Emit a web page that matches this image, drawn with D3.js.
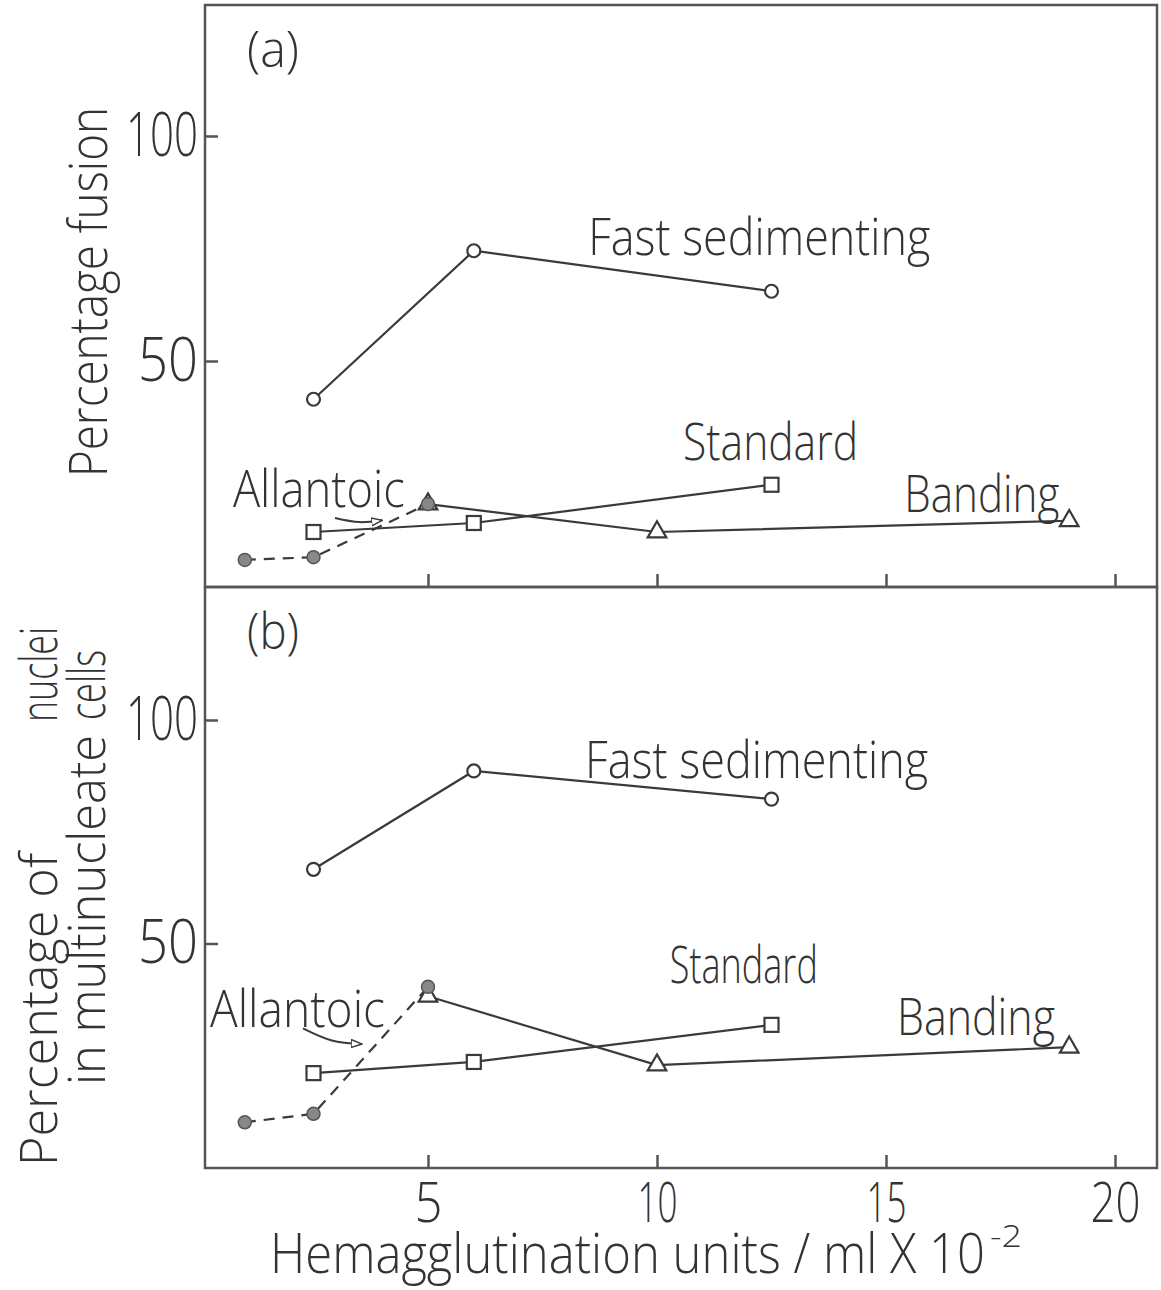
<!DOCTYPE html>
<html>
<head>
<meta charset="utf-8">
<script src="https://cdn.jsdelivr.net/npm/d3@7"></script>
<style>
  body { margin: 0; background: #fff; }
  text { font-family: 'Open Sans', Lato, sans-serif; font-weight: 300; fill: #333; }
</style>
</head>
<body>
<div id="chart"></div>
<script>
// x values, hemagglutination units/ml x 10^-2
const xFast = [2.5, 6, 12.5];
const xStandard = [2.5, 6, 12.5];
const xBanding = [5, 10, 19];
const xAllantoic = [1, 2.5, 5];

// panel (a): percentage fusion
const fastA = [41.5, 74.5, 65.5];
const standardA = [12, 14, 22.5];
const bandingA = [18.2, 12, 14.5];
const allantoicA = [5.8, 6.4, 18.2];

// panel (b): percentage of nuclei in multinucleate cells
const fastB = [66.6, 88.6, 82.3];
const standardB = [21, 23.5, 31.8];
const bandingB = [38.2, 22.8, 26.8];
const allantoicB = [10, 11.9, 40.3];

const xTickValues = [5, 10, 15, 20];
const yTickValues = [50, 100];

var width = 1161;
var height = 1290;
var frameLeft = 205, frameRight = 1157;
var ink = "#3a3a3a";

var svg = d3.select("#chart")
    .append("svg")
    .attr("width", width)
    .attr("height", height);

// arrow head for the "Allantoic" pointer
svg.append("defs").append("marker")
    .attr("id", "arrow")
    .attr("viewBox", "0 0 12 10")
    .attr("refX", 11)
    .attr("refY", 5)
    .attr("markerWidth", 12)
    .attr("markerHeight", 10)
    .attr("markerUnits", "userSpaceOnUse")
    .attr("orient", "auto")
    .append("path")
    .attr("d", "M0,1 L11,5 L0,9 Z")
    .attr("fill", "#fff")
    .attr("stroke", ink)
    .attr("stroke-width", 1.5);

const x = d3.scaleLinear().domain([0, 20]).range([199, 1115]);

const panels = [
    {
        name: "(a)",
        y: d3.scaleLinear().domain([0, 100]).range([586, 136]),
        top: 5, bottom: 587,
        fast: fastA, standard: standardA, banding: bandingA, allantoic: allantoicA,
        showX: false,
        labels: [
            { text: "Fast sedimenting", x: 8.5, y: 73.6, len: 342 },
            { text: "Standard", x: 10.57, y: 28, len: 175 },
            { text: "Banding", x: 15.4, y: 16.4, len: 155 },
            { text: "Allantoic", x: 0.74, y: 17.5, len: 172 }
        ],
        arrow: [[2.97, 15.1], [3.5, 14.2], [4.0, 14.6]]
    },
    {
        name: "(b)",
        y: d3.scaleLinear().domain([0, 100]).range([1167, 720]),
        top: 587, bottom: 1168,
        fast: fastB, standard: standardB, banding: bandingB, allantoic: allantoicB,
        showX: true,
        labels: [
            { text: "Fast sedimenting", x: 8.43, y: 87, len: 343 },
            { text: "Standard", x: 10.28, y: 41.2, len: 148 },
            { text: "Banding", x: 15.24, y: 29.5, len: 158 },
            { text: "Allantoic", x: 0.24, y: 31.3, len: 175 }
        ],
        arrow: [[2.27, 31], [2.9, 28.3], [3.56, 27.5]]
    }
];

panels.forEach(p => {
    const y = p.y;
    const g = svg.append("g");

    // frame
    g.append("rect")
        .attr("x", frameLeft)
        .attr("y", p.top)
        .attr("width", frameRight - frameLeft)
        .attr("height", p.bottom - p.top)
        .attr("fill", "none")
        .attr("stroke", "#555")
        .attr("stroke-width", 2.5);

    // y axis, ticks point into the plot
    const yAxis = g.append("g")
        .attr("transform", `translate(${frameLeft},0)`)
        .call(d3.axisLeft(y).tickValues(yTickValues).tickSizeInner(-13).tickSizeOuter(0).tickPadding(7));
    yAxis.select(".domain").remove();
    yAxis.selectAll("line").attr("stroke", "#555").attr("stroke-width", 2.5);
    yAxis.selectAll("text")
        .attr("font-size", 60)
        .attr("textLength", d => d === 100 ? 72 : 60)
        .attr("lengthAdjust", "spacingAndGlyphs");

    // x axis, ticks point up
    const xAxis = g.append("g")
        .attr("transform", `translate(0,${p.bottom})`)
        .call(d3.axisBottom(x).tickValues(xTickValues).tickSizeInner(-13).tickSizeOuter(0).tickPadding(15)
            .tickFormat(p.showX ? d3.format("d") : () => ""));
    xAxis.select(".domain").remove();
    xAxis.selectAll("line").attr("stroke", "#555").attr("stroke-width", 2.5);
    xAxis.selectAll("text")
        .attr("font-size", 55)
        .attr("textLength", d => d === 5 ? 28 : (d === 20 ? 50 : 40))
        .attr("lengthAdjust", "spacingAndGlyphs");

    // panel tag
    g.append("text")
        .attr("x", frameLeft + 42)
        .attr("y", p.top + 62)
        .attr("font-size", 50)
        .attr("textLength", 52)
        .attr("lengthAdjust", "spacingAndGlyphs")
        .text(p.name);

    const line = d3.line().x(d => x(d[0])).y(d => y(d[1]));
    const fastPts = d3.zip(xFast, p.fast);
    const stdPts = d3.zip(xStandard, p.standard);
    const bandPts = d3.zip(xBanding, p.banding);
    const allPts = d3.zip(xAllantoic, p.allantoic);

    // lines
    [fastPts, stdPts, bandPts].forEach(pts => {
        g.append("path")
            .attr("d", line(pts))
            .attr("fill", "none")
            .attr("stroke", ink)
            .attr("stroke-width", 2.2);
    });
    g.append("path")
        .attr("d", line(allPts))
        .attr("fill", "none")
        .attr("stroke", ink)
        .attr("stroke-width", 2.2)
        .attr("stroke-dasharray", "11,8");

    // open markers
    g.selectAll(".fast")
        .data(fastPts)
        .join("circle")
        .attr("cx", d => x(d[0]))
        .attr("cy", d => y(d[1]))
        .attr("r", 6.5)
        .attr("fill", "#fff")
        .attr("stroke", ink)
        .attr("stroke-width", 2.2);

    g.selectAll(".std")
        .data(stdPts)
        .join("rect")
        .attr("x", d => x(d[0]) - 7)
        .attr("y", d => y(d[1]) - 7)
        .attr("width", 14)
        .attr("height", 14)
        .attr("fill", "#fff")
        .attr("stroke", ink)
        .attr("stroke-width", 2.2);

    g.selectAll(".band")
        .data(bandPts)
        .join("path")
        .attr("transform", d => `translate(${x(d[0])},${y(d[1])})`)
        .attr("d", d3.symbol(d3.symbolTriangle).size(150))
        .attr("fill", "#fff")
        .attr("stroke", ink)
        .attr("stroke-width", 2.2);

    // filled markers for allantoic
    g.selectAll(".allan")
        .data(allPts)
        .join("circle")
        .attr("cx", d => x(d[0]))
        .attr("cy", d => y(d[1]))
        .attr("r", 6.5)
        .attr("fill", "#888")
        .attr("stroke", "#555")
        .attr("stroke-width", 1.5);

    // series labels
    g.selectAll(".lab")
        .data(p.labels)
        .join("text")
        .attr("x", d => x(d.x))
        .attr("y", d => y(d.y))
        .attr("font-size", 52)
        .attr("textLength", d => d.len)
        .attr("lengthAdjust", "spacingAndGlyphs")
        .text(d => d.text);

    // curved arrow from "Allantoic" to its line
    g.append("path")
        .attr("d", d3.line().curve(d3.curveCatmullRom).x(d => x(d[0])).y(d => y(d[1]))(p.arrow))
        .attr("fill", "none")
        .attr("stroke", ink)
        .attr("stroke-width", 2)
        .attr("marker-end", "url(#arrow)");
});

// y axis titles
svg.append("text")
    .attr("transform", "translate(107,292) rotate(-90)")
    .attr("text-anchor", "middle")
    .attr("font-size", 54)
    .attr("textLength", 370)
    .attr("lengthAdjust", "spacingAndGlyphs")
    .text("Percentage  fusion");

svg.append("text")
    .attr("transform", "translate(57,1166) rotate(-90)")
    .attr("font-size", 51)
    .attr("textLength", 313)
    .attr("lengthAdjust", "spacingAndGlyphs")
    .text("Percentage of");
svg.append("text")
    .attr("transform", "translate(57,627) rotate(-90)")
    .attr("text-anchor", "end")
    .attr("font-size", 51)
    .attr("textLength", 95)
    .attr("lengthAdjust", "spacingAndGlyphs")
    .text("nuclei");
svg.append("text")
    .attr("transform", "translate(105,1085) rotate(-90)")
    .attr("font-size", 51)
    .attr("textLength", 350)
    .attr("lengthAdjust", "spacingAndGlyphs")
    .text("in multinucleate");
svg.append("text")
    .attr("transform", "translate(105,650) rotate(-90)")
    .attr("text-anchor", "end")
    .attr("font-size", 51)
    .attr("textLength", 70)
    .attr("lengthAdjust", "spacingAndGlyphs")
    .text("cells");

// x axis title
svg.append("text")
    .attr("x", 270)
    .attr("y", 1273)
    .attr("font-size", 55)
    .attr("textLength", 715)
    .attr("lengthAdjust", "spacingAndGlyphs")
    .text("Hemagglutination  units / ml  X  10");
svg.append("text")
    .attr("x", 990)
    .attr("y", 1247)
    .attr("font-size", 32)
    .attr("textLength", 32)
    .attr("lengthAdjust", "spacingAndGlyphs")
    .text("-2");
</script>
</body>
</html>
